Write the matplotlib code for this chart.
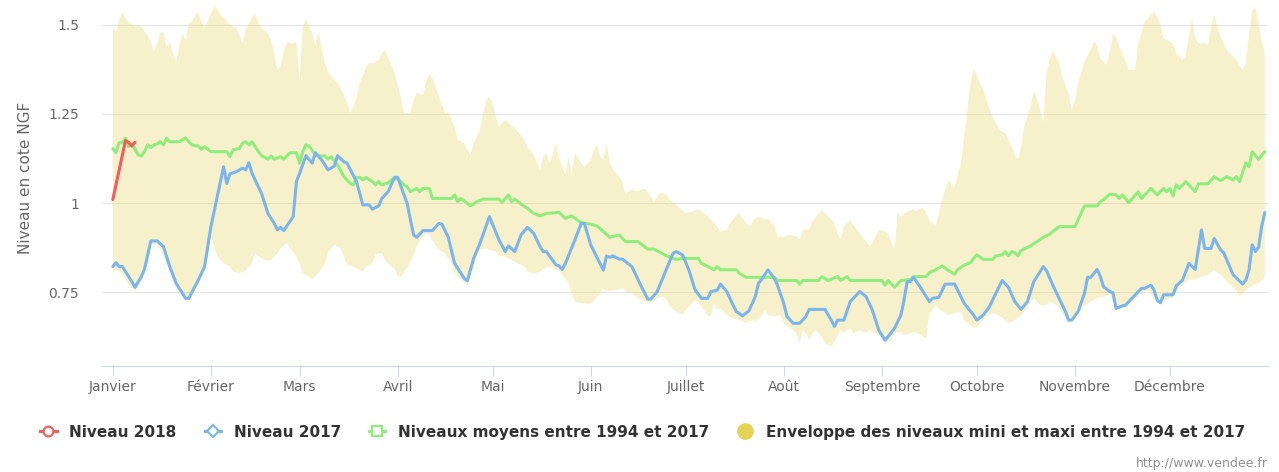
import numpy as np
import matplotlib.pyplot as plt
from matplotlib.lines import Line2D

plt.rcParams["font.family"] = ["DejaVu Sans"]

# month labels, placed on the first day of each month (day of year, 0 = 1 Jan)
months = ["Janvier", "Février", "Mars", "Avril", "Mai", "Juin", "Juillet",
          "Août", "Septembre", "Octobre", "Novembre", "Décembre"]
month_start = [0, 31, 59, 90, 120, 151, 181, 212, 243, 273, 304, 334]

# Niveau 2018
days_2018 = [0, 4, 5, 6, 7]
niveau_2018 = [1.01, 1.175, 1.17, 1.16, 1.17]

# Niveau 2017
days_2017 = [
    0, 1, 2, 3, 6, 7, 9, 10, 12, 14, 16, 18, 20, 23, 24, 27, 29, 31, 35, 36,
    37, 39, 41, 42, 43, 44, 47, 49, 51, 52, 53, 54, 57, 58, 59, 61, 63, 64, 66, 68,
    70, 71, 73, 74, 77, 79, 81, 82, 84, 85, 87, 89, 90, 93, 95, 96, 98, 101, 103, 104,
    106, 108, 111, 112, 114, 116, 119, 122, 124, 125, 127, 129, 131, 133, 135, 136, 137, 140, 141, 142,
    143, 146, 148, 149, 151, 155, 156, 157, 158, 160, 161, 164, 167, 169, 170, 172, 177, 178, 180, 182,
    184, 186, 188, 189, 191, 192, 194, 196, 197, 199, 201, 203, 204, 205, 207, 209, 210, 212, 213, 215,
    217, 219, 220, 225, 227, 228, 229, 231, 233, 236, 238, 240, 242, 244, 245, 247, 249, 250, 251, 252,
    253, 255, 256, 258, 259, 261, 263, 266, 269, 272, 273, 275, 277, 279, 281, 283, 285, 287, 289, 291,
    294, 295, 297, 300, 301, 302, 303, 305, 307, 308, 309, 311, 312, 313, 315, 316, 317, 319, 320, 322,
    325, 326, 328, 329, 330, 331, 332, 335, 336, 338, 340, 342, 344, 345, 347, 348, 350, 351, 354, 357,
    358, 359, 360, 361, 362, 363, 364,
]
niveau_2017 = [
    0.822, 0.833, 0.822, 0.822, 0.780, 0.764, 0.794, 0.814, 0.894, 0.894, 0.878, 0.822, 0.775, 0.733, 0.733, 0.784, 0.822, 0.934, 1.102, 1.055,
    1.082, 1.088, 1.098, 1.093, 1.113, 1.083, 1.027, 0.971, 0.943, 0.925, 0.932, 0.923, 0.962, 1.060, 1.083, 1.133, 1.112, 1.141, 1.121, 1.093,
    1.104, 1.133, 1.116, 1.112, 1.060, 0.995, 0.995, 0.983, 0.992, 1.013, 1.032, 1.072, 1.072, 0.999, 0.911, 0.904, 0.923, 0.923, 0.943, 0.941,
    0.904, 0.831, 0.789, 0.782, 0.845, 0.887, 0.962, 0.897, 0.864, 0.880, 0.864, 0.911, 0.932, 0.915, 0.878, 0.864, 0.864, 0.827, 0.824, 0.814,
    0.831, 0.897, 0.943, 0.943, 0.883, 0.812, 0.852, 0.848, 0.852, 0.843, 0.843, 0.822, 0.766, 0.731, 0.731, 0.752, 0.859, 0.864, 0.855, 0.813,
    0.756, 0.733, 0.733, 0.752, 0.756, 0.773, 0.752, 0.714, 0.696, 0.684, 0.698, 0.738, 0.775, 0.786, 0.813, 0.789, 0.770, 0.719, 0.682, 0.663,
    0.663, 0.682, 0.702, 0.702, 0.672, 0.654, 0.672, 0.672, 0.724, 0.752, 0.738, 0.700, 0.644, 0.616, 0.626, 0.649, 0.686, 0.728, 0.780, 0.780,
    0.792, 0.766, 0.752, 0.724, 0.733, 0.736, 0.773, 0.773, 0.719, 0.686, 0.672, 0.686, 0.710, 0.747, 0.783, 0.764, 0.724, 0.702, 0.724, 0.780,
    0.822, 0.811, 0.770, 0.714, 0.696, 0.672, 0.672, 0.696, 0.747, 0.792, 0.792, 0.814, 0.795, 0.766, 0.752, 0.749, 0.705, 0.712, 0.714, 0.733,
    0.761, 0.761, 0.770, 0.756, 0.728, 0.721, 0.743, 0.743, 0.768, 0.784, 0.831, 0.814, 0.925, 0.873, 0.873, 0.901, 0.869, 0.861, 0.799, 0.773,
    0.784, 0.813, 0.883, 0.864, 0.876, 0.934, 0.974,
]

# Niveaux moyens entre 1994 et 2017
days_moy = [
    0, 1, 2, 3, 4, 5, 6, 8, 9, 10, 11, 12, 13, 14, 15, 16, 17, 18, 21, 23,
    24, 25, 27, 28, 29, 31, 36, 37, 38, 40, 41, 42, 43, 44, 46, 47, 49, 50, 51, 53,
    54, 56, 58, 59, 60, 61, 62, 64, 65, 67, 68, 69, 71, 73, 75, 76, 77, 78, 79, 80,
    82, 83, 84, 85, 87, 88, 90, 92, 93, 94, 96, 97, 98, 100, 101, 107, 108, 109, 110, 113,
    115, 117, 122, 123, 125, 126, 127, 129, 131, 133, 135, 137, 141, 143, 145, 148, 151, 153, 155, 157,
    160, 162, 166, 169, 171, 175, 178, 180, 185, 186, 188, 190, 191, 192, 197, 198, 200, 209, 210, 216,
    217, 218, 223, 224, 226, 229, 230, 232, 233, 243, 244, 245, 247, 249, 252, 253, 257, 258, 260, 262,
    264, 266, 267, 269, 271, 272, 273, 275, 278, 279, 281, 282, 283, 284, 285, 286, 287, 290, 292, 294,
    296, 299, 304, 307, 311, 312, 313, 315, 317, 318, 319, 320, 321, 324, 325, 328, 330, 332, 333, 334,
    335, 336, 337, 339, 340, 342, 343, 346, 348, 350, 352, 354, 355, 356, 358, 359, 360, 362, 364,
]
niveau_moy = [
    1.153, 1.141, 1.169, 1.169, 1.182, 1.158, 1.168, 1.135, 1.132, 1.144, 1.163, 1.156, 1.163, 1.166, 1.172, 1.163, 1.182, 1.172, 1.172, 1.183,
    1.172, 1.163, 1.160, 1.151, 1.158, 1.144, 1.144, 1.130, 1.149, 1.153, 1.168, 1.172, 1.163, 1.172, 1.144, 1.133, 1.123, 1.132, 1.123, 1.130,
    1.123, 1.141, 1.141, 1.112, 1.144, 1.163, 1.160, 1.135, 1.132, 1.132, 1.123, 1.130, 1.107, 1.074, 1.055, 1.051, 1.072, 1.072, 1.065, 1.072,
    1.060, 1.051, 1.060, 1.051, 1.057, 1.065, 1.069, 1.051, 1.046, 1.032, 1.041, 1.032, 1.041, 1.041, 1.013, 1.013, 1.023, 1.004, 1.013, 0.992,
    1.004, 1.011, 1.011, 1.002, 1.023, 1.004, 1.011, 0.997, 0.985, 0.971, 0.964, 0.971, 0.974, 0.957, 0.964, 0.945, 0.941, 0.936, 0.920, 0.904,
    0.911, 0.892, 0.892, 0.871, 0.871, 0.852, 0.842, 0.845, 0.845, 0.831, 0.822, 0.813, 0.822, 0.813, 0.813, 0.803, 0.792, 0.792, 0.783, 0.783,
    0.773, 0.783, 0.783, 0.794, 0.783, 0.794, 0.783, 0.794, 0.783, 0.783, 0.770, 0.783, 0.764, 0.783, 0.786, 0.794, 0.794, 0.805, 0.813, 0.824,
    0.811, 0.801, 0.814, 0.826, 0.833, 0.845, 0.855, 0.842, 0.842, 0.852, 0.855, 0.864, 0.852, 0.864, 0.861, 0.852, 0.867, 0.880, 0.892, 0.904,
    0.913, 0.934, 0.934, 0.992, 0.992, 1.004, 1.009, 1.025, 1.023, 1.013, 1.023, 1.013, 1.001, 1.032, 1.013, 1.041, 1.023, 1.041, 1.032, 1.041,
    1.020, 1.051, 1.041, 1.060, 1.051, 1.032, 1.054, 1.054, 1.074, 1.063, 1.074, 1.065, 1.074, 1.060, 1.113, 1.102, 1.144, 1.123, 1.144,
]

# Enveloppe: niveaux maxi entre 1994 et 2017
days_max = [
    0, 1, 2, 3, 4, 5, 7, 8, 9, 11, 12, 13, 14, 15, 16, 17, 18, 19, 20, 21,
    22, 23, 24, 25, 26, 27, 28, 29, 31, 32, 33, 34, 35, 36, 38, 39, 41, 42, 44, 45,
    46, 47, 49, 50, 51, 52, 53, 54, 55, 57, 58, 59, 60, 61, 62, 63, 64, 65, 66, 67,
    68, 70, 71, 73, 74, 75, 76, 77, 78, 80, 81, 82, 84, 85, 86, 89, 91, 92, 94, 95,
    96, 98, 99, 100, 101, 103, 105, 106, 108, 109, 111, 112, 113, 114, 116, 117, 118, 119, 120, 121,
    122, 124, 125, 127, 128, 130, 131, 133, 135, 136, 137, 138, 139, 140, 141, 142, 143, 144, 145, 146,
    148, 149, 150, 151, 152, 153, 154, 155, 156, 157, 158, 160, 161, 162, 163, 164, 165, 167, 168, 170,
    171, 172, 173, 175, 176, 178, 181, 183, 185, 187, 189, 191, 192, 194, 195, 197, 198, 199, 201, 203,
    204, 206, 207, 209, 210, 212, 214, 216, 217, 218, 219, 220, 221, 223, 224, 225, 227, 228, 229, 230,
    231, 233, 234, 236, 238, 239, 240, 242, 243, 245, 246, 247, 248, 249, 251, 253, 254, 256, 257, 258,
    260, 262, 263, 264, 265, 266, 267, 268, 269, 270, 271, 272, 273, 274, 276, 277, 279, 280, 282, 283,
    284, 285, 286, 287, 288, 290, 291, 292, 293, 294, 295, 296, 297, 299, 300, 302, 303, 304, 305, 307,
    309, 310, 311, 312, 314, 315, 316, 317, 318, 319, 320, 321, 323, 324, 326, 327, 329, 330, 331, 332,
    335, 336, 338, 339, 340, 341, 342, 343, 345, 346, 347, 348, 349, 350, 352, 355, 357, 358, 359, 360,
    361, 362, 363, 364,
]
niveau_max = [
    1.494, 1.480, 1.512, 1.536, 1.518, 1.506, 1.494, 1.499, 1.494, 1.471, 1.452, 1.424, 1.448, 1.476, 1.480, 1.438, 1.452, 1.420, 1.396, 1.438,
    1.476, 1.457, 1.504, 1.508, 1.527, 1.536, 1.508, 1.490, 1.532, 1.550, 1.546, 1.527, 1.522, 1.508, 1.494, 1.490, 1.451, 1.485, 1.522, 1.532,
    1.508, 1.490, 1.476, 1.457, 1.420, 1.373, 1.382, 1.429, 1.450, 1.448, 1.450, 1.345, 1.490, 1.518, 1.494, 1.476, 1.443, 1.480, 1.434, 1.392,
    1.368, 1.345, 1.336, 1.303, 1.280, 1.252, 1.270, 1.298, 1.336, 1.382, 1.393, 1.392, 1.401, 1.420, 1.429, 1.367, 1.297, 1.253, 1.252, 1.289,
    1.308, 1.303, 1.340, 1.362, 1.350, 1.298, 1.252, 1.256, 1.214, 1.177, 1.168, 1.149, 1.135, 1.168, 1.205, 1.252, 1.289, 1.298, 1.280, 1.242,
    1.214, 1.233, 1.224, 1.210, 1.200, 1.177, 1.158, 1.135, 1.093, 1.130, 1.140, 1.112, 1.135, 1.168, 1.126, 1.102, 1.079, 1.130, 1.083, 1.140,
    1.112, 1.102, 1.112, 1.121, 1.149, 1.163, 1.130, 1.121, 1.168, 1.112, 1.093, 1.074, 1.060, 1.027, 1.032, 1.041, 1.032, 1.037, 1.041, 1.018,
    1.004, 1.018, 1.029, 1.023, 1.009, 0.995, 0.971, 0.976, 0.983, 0.971, 0.953, 0.934, 0.920, 0.925, 0.943, 0.967, 0.971, 0.957, 0.934, 0.957,
    0.962, 0.953, 0.957, 0.934, 0.906, 0.904, 0.911, 0.906, 0.897, 0.925, 0.927, 0.925, 0.948, 0.971, 0.981, 0.971, 0.955, 0.943, 0.915, 0.897,
    0.934, 0.953, 0.939, 0.915, 0.892, 0.880, 0.887, 0.925, 0.925, 0.915, 0.890, 0.873, 0.976, 0.962, 0.976, 0.983, 0.979, 0.988, 0.971, 0.953,
    0.934, 1.009, 1.037, 1.065, 1.051, 1.046, 1.083, 1.112, 1.186, 1.261, 1.336, 1.378, 1.359, 1.336, 1.298, 1.261, 1.224, 1.205, 1.196, 1.177,
    1.158, 1.135, 1.123, 1.158, 1.214, 1.270, 1.312, 1.294, 1.261, 1.228, 1.364, 1.401, 1.429, 1.392, 1.354, 1.308, 1.261, 1.289, 1.336, 1.396,
    1.429, 1.452, 1.443, 1.406, 1.387, 1.424, 1.476, 1.466, 1.438, 1.420, 1.396, 1.373, 1.373, 1.448, 1.508, 1.518, 1.536, 1.522, 1.499, 1.462,
    1.448, 1.420, 1.401, 1.415, 1.466, 1.518, 1.466, 1.448, 1.448, 1.443, 1.494, 1.527, 1.494, 1.466, 1.429, 1.401, 1.373, 1.392, 1.476, 1.541,
    1.550, 1.504, 1.457, 1.420,
]

# Enveloppe: niveaux mini entre 1994 et 2017
days_min = [
    0, 1, 2, 3, 5, 7, 9, 10, 12, 14, 15, 18, 20, 23, 24, 26, 28, 29, 31, 32,
    33, 35, 37, 38, 40, 42, 44, 45, 47, 48, 50, 52, 53, 55, 56, 58, 59, 60, 62, 63,
    65, 67, 68, 70, 72, 73, 74, 76, 77, 79, 80, 82, 83, 85, 86, 88, 89, 90, 91, 92,
    94, 96, 97, 98, 99, 100, 101, 103, 105, 107, 108, 110, 112, 113, 115, 116, 118, 119, 121, 122,
    124, 126, 128, 130, 131, 133, 135, 137, 139, 141, 142, 144, 145, 146, 148, 151, 152, 154, 155, 156,
    159, 161, 163, 164, 166, 168, 169, 171, 172, 174, 175, 176, 178, 180, 182, 184, 185, 187, 188, 189,
    190, 191, 192, 194, 196, 198, 200, 202, 203, 205, 206, 207, 209, 211, 212, 214, 215, 216, 217, 218,
    219, 220, 221, 222, 224, 225, 227, 228, 230, 231, 233, 234, 236, 238, 239, 241, 243, 244, 246, 247,
    249, 250, 252, 253, 256, 257, 258, 260, 262, 264, 266, 268, 269, 271, 272, 273, 274, 276, 278, 280,
    282, 283, 285, 287, 289, 290, 291, 293, 295, 296, 299, 300, 302, 304, 306, 309, 311, 313, 315, 317,
    318, 319, 322, 325, 327, 329, 330, 331, 333, 335, 336, 338, 340, 342, 344, 346, 348, 350, 352, 355,
    356, 358, 360, 362, 364,
]
niveau_min = [
    0.808, 0.815, 0.808, 0.803, 0.770, 0.754, 0.780, 0.803, 0.883, 0.883, 0.869, 0.813, 0.766, 0.724, 0.724, 0.775, 0.813, 0.815, 0.905, 0.878,
    0.850, 0.831, 0.822, 0.808, 0.803, 0.812, 0.831, 0.859, 0.845, 0.840, 0.840, 0.859, 0.873, 0.889, 0.873, 0.850, 0.831, 0.803, 0.794, 0.786,
    0.803, 0.831, 0.864, 0.883, 0.873, 0.850, 0.827, 0.822, 0.817, 0.808, 0.822, 0.831, 0.855, 0.861, 0.840, 0.822, 0.817, 0.796, 0.794, 0.808,
    0.831, 0.878, 0.895, 0.905, 0.915, 0.911, 0.895, 0.869, 0.859, 0.831, 0.803, 0.785, 0.777, 0.800, 0.850, 0.869, 0.873, 0.869, 0.864, 0.852,
    0.850, 0.840, 0.831, 0.822, 0.808, 0.803, 0.808, 0.820, 0.820, 0.810, 0.800, 0.775, 0.745, 0.724, 0.719, 0.717, 0.724, 0.747, 0.761, 0.752,
    0.756, 0.761, 0.747, 0.747, 0.733, 0.724, 0.721, 0.724, 0.733, 0.738, 0.728, 0.710, 0.696, 0.686, 0.710, 0.728, 0.724, 0.696, 0.682, 0.686,
    0.719, 0.700, 0.705, 0.686, 0.677, 0.672, 0.663, 0.672, 0.668, 0.682, 0.700, 0.686, 0.682, 0.686, 0.663, 0.649, 0.644, 0.635, 0.607, 0.644,
    0.635, 0.616, 0.635, 0.644, 0.626, 0.607, 0.597, 0.612, 0.644, 0.635, 0.649, 0.635, 0.644, 0.635, 0.644, 0.635, 0.621, 0.607, 0.616, 0.635,
    0.640, 0.630, 0.635, 0.640, 0.626, 0.621, 0.690, 0.714, 0.696, 0.686, 0.691, 0.696, 0.672, 0.658, 0.649, 0.653, 0.663, 0.682, 0.691, 0.686,
    0.672, 0.663, 0.672, 0.686, 0.705, 0.724, 0.733, 0.714, 0.714, 0.724, 0.710, 0.691, 0.665, 0.677, 0.705, 0.724, 0.733, 0.738, 0.745, 0.700,
    0.705, 0.710, 0.724, 0.747, 0.756, 0.733, 0.719, 0.716, 0.730, 0.733, 0.756, 0.770, 0.785, 0.785, 0.794, 0.799, 0.813, 0.799, 0.780, 0.756,
    0.738, 0.756, 0.770, 0.775, 0.794,
]

c_2018 = "#f45b5b"
c_2017 = "#7cb5ec"
c_moy = "#90ed7d"
c_env = "#e4d354"
txt = "#666666"

fig = plt.figure(figsize=(12.79, 4.72), dpi=100)
ax = fig.add_axes([0.0798, 0.2246, 0.9116, 0.7648])

# min/max envelope as a closed polygon: upper edge forward, lower edge back
env_x = np.concatenate([days_max, days_min[::-1]])
env_y = np.concatenate([niveau_max, niveau_min[::-1]])
ax.fill(env_x, env_y, color=c_env, alpha=0.3, lw=0, zorder=1)

line_kw = dict(lw=2.2, solid_joinstyle="round", solid_capstyle="round")
ax.plot(days_moy, niveau_moy, color=c_moy, zorder=2, **line_kw)
ax.plot(days_2017, niveau_2017, color=c_2017, zorder=3, **line_kw)
ax.plot(days_2018, niveau_2018, color=c_2018, zorder=4, **line_kw)

ax.set_xlim(-3.4, 365)
ax.set_ylim(0.5434, 1.5552)

ax.set_xticks(month_start)
ax.set_xticklabels(months)
ax.set_yticks([0.75, 1, 1.25, 1.5])
ax.set_yticklabels(["0.75", "1", "1.25", "1.5"])

ax.set_axisbelow(True)
ax.yaxis.grid(True, color="#e6e6e6", lw=0.75)
for side in ("top", "right", "left"):
    ax.spines[side].set_visible(False)
ax.spines["bottom"].set_color("#ccd6eb")
ax.spines["bottom"].set_linewidth(0.75)

ax.tick_params(axis="x", length=7.2, width=0.75, color="#ccd6eb",
               labelcolor=txt, labelsize=10, pad=3)
ax.tick_params(axis="y", length=0, labelcolor=txt, labelsize=10, pad=16.5)

ax.text(-0.066, 0.522, "Niveau en cote NGF", transform=ax.transAxes,
        rotation=90, ha="center", va="center", color=txt, fontsize=11)

handles = [
    Line2D([], [], color=c_2018, lw=2.2, marker="o", ms=7, mfc="white", mec=c_2018, mew=1.5),
    Line2D([], [], color=c_2017, lw=2.2, marker="D", ms=6, mfc="white", mec=c_2017, mew=1.5),
    Line2D([], [], color=c_moy, lw=2.2, marker="s", ms=6.5, mfc="white", mec=c_moy, mew=1.5),
    Line2D([], [], ls="none", marker="o", ms=11, mfc=c_env, mec=c_env),
]
labels = ["Niveau 2018", "Niveau 2017", "Niveaux moyens entre 1994 et 2017",
          "Enveloppe des niveaux mini et maxi entre 1994 et 2017"]
fig.legend(handles, labels, loc="center", bbox_to_anchor=(0.5027, 0.0847), ncol=4,
           frameon=False, prop=dict(weight="bold", size=11), labelcolor="#333333",
           handlelength=1.05, handletextpad=0.85, columnspacing=1.83,
           borderpad=0, borderaxespad=0, numpoints=1)

fig.text(0.9914, 1 - 463 / 472, "http://www.vendee.fr", ha="right", va="center",
         color="#909090", fontsize=9)

fig.savefig("out.png", dpi=100)
